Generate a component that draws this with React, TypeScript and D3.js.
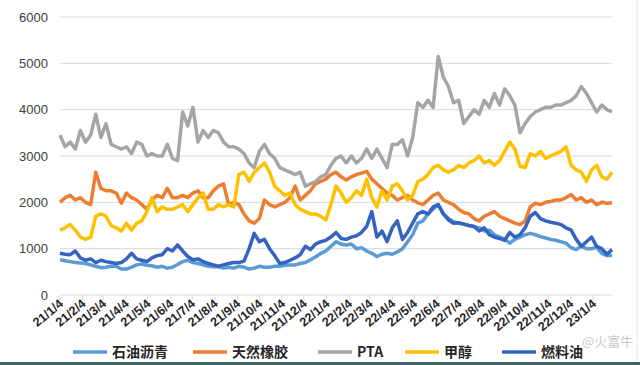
import React from "react";
import * as d3 from "d3";

// weekly readings, first point 2021-01-04
const ASPHALT = [
  760, 740, 720, 700, 690, 680, 650, 620, 590, 600, 620, 620, 560, 560, 600, 650, 670, 640, 630, 600,
  620, 580, 600, 660, 720, 750, 700, 680, 650, 620, 610, 610, 580, 600, 580, 620, 600, 560, 580, 620,
  600, 600, 620, 620, 640, 650, 650, 680, 700, 760, 820, 900, 950, 1050, 1150,
  1100, 1080, 1100, 1000, 1020, 950, 900, 830, 880, 900, 880, 930, 1000, 1150, 1300, 1550, 1600, 1750,
  1850, 1950, 1750, 1650, 1580, 1550, 1530, 1500, 1480, 1450, 1380, 1400, 1300, 1250, 1200, 1120, 1200,
  1250, 1300, 1330, 1300, 1260, 1230, 1200, 1180, 1150, 1120, 1020, 980, 1050, 1000, 1000, 1030, 900,
  850, 850,
];
const RUBBER = [
  2000, 2100, 2150, 2050, 2100, 2000, 1950, 2650, 2300, 2250, 2250, 2200, 1980, 2200, 2100, 2050, 1950,
  1850, 2050, 2150, 2100, 2300, 2100, 2100, 2150, 2100, 2200, 2250, 2100, 2100, 2250, 2350, 2400, 1950,
  2000, 1950, 1750, 1600, 1550, 1650, 2050, 1950, 1900, 1950, 2000, 2100, 2350, 2050, 2150, 2250, 2400,
  2450, 2500, 2600, 2650,
  2550, 2480, 2550, 2600, 2630, 2670, 2500, 2400, 2300, 2200, 2150, 2050, 2100, 2150, 2050, 1990, 1950,
  2050, 2150, 2200, 2050, 2000, 1950, 1850, 1780, 1750, 1650, 1600, 1700, 1750, 1800, 1700, 1650, 1600,
  1550, 1520, 1600, 1900, 1980, 1950, 2000, 2020, 2050, 2050, 2100, 2170, 2050, 2100, 2000, 2050, 1950,
  2000, 1980, 1990,
];
const PTA = [
  3450, 3200, 3300, 3150, 3550, 3300, 3450, 3900, 3400, 3700, 3250, 3200, 3150, 3200, 3050, 3300, 3250,
  3000, 3050, 3000, 3000, 3250, 2950, 2900, 3950, 3650, 4050, 3300, 3550, 3400, 3550, 3500, 3300, 3200,
  3200, 3150, 3050, 2850, 2750, 3100, 3250, 3050, 2950, 2750, 2700, 2650, 2600, 2650, 2350, 2400, 2450,
  2550, 2600, 2800, 2950,
  3000, 2850, 3000, 2850, 2950, 3150, 2950, 3150, 2950, 2750, 3250, 3250, 3350, 3000, 3400, 4150, 4050,
  4200, 4050, 5150, 4700, 4500, 4150, 4200, 3700, 3850, 4000, 3900, 4200, 4050, 4350, 4100, 4450, 4300,
  4100, 3500, 3700, 3850, 3950, 4000, 4050, 4050, 4100, 4100, 4150, 4200, 4300, 4500, 4350, 4150, 3950,
  4100, 4000, 3950,
];
const METHANOL = [
  1400, 1450, 1520, 1400, 1250, 1200, 1250, 1700, 1750, 1700, 1500, 1450, 1380, 1550, 1400, 1550, 1600,
  1800, 2100, 1800, 1900, 1850, 1850, 1900, 1950, 1800, 1950, 2100, 2200, 1850, 1850, 1950, 1900, 1950,
  1900, 2600, 2650, 2450, 2650, 2750, 2850, 2650, 2350, 2250, 2150, 2200, 1950, 1850, 1800, 1750, 1750,
  1700, 1620, 1950, 2350,
  2200, 2000, 2100, 2250, 2150, 2500, 2100, 1900, 2250, 2050, 2350, 2400, 2250, 2050, 2150, 2450, 2500,
  2600, 2750, 2800, 2700, 2650, 2700, 2800, 2750, 2850, 2900, 3000, 2850, 2900, 2800, 2900, 3100, 3300,
  3150, 2780, 2750, 3050, 3000, 3100, 2950, 3000, 3050, 3100, 3200, 2800, 2700, 2650, 2450, 2700, 2800,
  2550, 2500, 2650,
];
const FUEL_OIL = [
  900, 880, 870, 950, 800, 750, 780, 700, 750, 720, 700, 680, 700, 780, 900, 780, 750, 720, 800, 850,
  870, 1000, 950, 1080, 950, 830, 760, 780, 720, 680, 650, 620, 650, 680, 700, 700, 730, 1000, 1330, 1150,
  1200, 1000, 850, 680, 700, 750, 800, 870, 1050, 980, 1100, 1150, 1180, 1250, 1350,
  1220, 1200, 1250, 1280, 1350, 1480, 1800, 1250, 1380, 1150, 1450, 1600, 1200, 1350, 1550, 1750, 1800,
  1750, 1900, 1950, 1750, 1620, 1550, 1560, 1530, 1500, 1480, 1380, 1450, 1300, 1250, 1220, 1180, 1350,
  1250, 1300, 1450, 1700, 1780, 1650, 1600, 1570, 1550, 1520, 1450, 1400, 1200, 1050, 1150, 1250, 1050,
  1000, 880, 980,
];

const TICK_LABELS = [
  "21/1/4", "21/2/4", "21/3/4", "21/4/4", "21/5/4", "21/6/4", "21/7/4", "21/8/4", "21/9/4",
  "21/10/4", "21/11/4", "21/12/4", "22/1/4", "22/2/4", "22/3/4", "22/4/4", "22/5/4", "22/6/4",
  "22/7/4", "22/8/4", "22/9/4", "22/10/4", "22/11/4", "22/12/4", "23/1/4",
];
const Y_TICKS = [0, 1000, 2000, 3000, 4000, 5000, 6000];

const SERIES = [
  { name: "石油沥青", values: ASPHALT, color: "#5b9bd5" },
  { name: "天然橡胶", values: RUBBER, color: "#ed7d31" },
  { name: "PTA", values: PTA, color: "#a5a5a5" },
  { name: "甲醇", values: METHANOL, color: "#ffc000" },
  { name: "燃料油", values: FUEL_OIL, color: "#3464bf" },
];
const LEGEND_X = [73, 193, 318, 405, 502];

const START = new Date(2021, 0, 4);
const dates = ASPHALT.map((_, i) => d3.timeDay.offset(START, 7 * i));
const tickDates = TICK_LABELS.map((s) => {
  const [yy, mm, dd] = s.split("/").map(Number);
  return new Date(2000 + yy, mm - 1, dd);
});

const W = 640;
const H = 365;
const left = 60;
const right = 612;
const top = 17;
const bottom = 295;

export default function App() {
  const x = d3.scaleTime().domain([START, dates[dates.length - 1]]).range([left, right]);
  const y = d3.scaleLinear().domain([0, 6000]).range([bottom, top]);
  const line = d3
    .line<number>()
    .x((_, i) => x(dates[i]))
    .y((d) => y(d));

  const font = '"Liberation Sans", Arial, sans-serif';

  return (
    <svg
      width={W}
      height={H}
      style={{ position: "absolute", left: 0, top: 0, background: "#fff" }}
    >
      <rect width={W} height={H} fill="#fff" />
      {/* gridlines + y labels */}
      {Y_TICKS.map((t) => (
        <g key={t}>
          {t > 0 && (
            <line x1={left} x2={right} y1={y(t)} y2={y(t)} stroke="#d9d9d9" strokeWidth={1} />
          )}
          <text
            x={48}
            y={y(t)}
            dy="0.35em"
            textAnchor="end"
            fontFamily={font}
            fontSize={13}
            fill="#404040"
          >
            {t}
          </text>
        </g>
      ))}
      {/* x axis */}
      <line x1={left} x2={right} y1={bottom} y2={bottom} stroke="#d9d9d9" strokeWidth={1} />
      {tickDates.map((d, i) => (
        <g key={TICK_LABELS[i]}>
          <line x1={x(d)} x2={x(d)} y1={bottom} y2={bottom + 5} stroke="#d9d9d9" />
          <text
            transform={`translate(${x(d) + 4},${bottom + 10}) rotate(-40)`}
            textAnchor="end"
            fontFamily={font}
            fontWeight="bold"
            fontSize={12.5}
            fill="#262626"
          >
            {TICK_LABELS[i]}
          </text>
        </g>
      ))}
      {/* series */}
      {SERIES.map((s) => (
        <path
          key={s.name}
          d={line(s.values) ?? ""}
          fill="none"
          stroke={s.color}
          strokeWidth={3.5}
          strokeLinejoin="round"
        />
      ))}
      {/* legend */}
      {SERIES.map((s, i) => (
        <g key={s.name} transform={`translate(${LEGEND_X[i]},352)`}>
          <line x1={0} x2={34} y1={0} y2={0} stroke={s.color} strokeWidth={3.5} />
          <text
            x={39}
            dy="0.35em"
            fontFamily={'"Noto Sans CJK SC", "Liberation Sans", sans-serif'}
            fontSize={14}
            fontWeight="bold"
            fill="#262626"
          >
            {s.name}
          </text>
        </g>
      ))}
      {/* watermark */}
      <text
        x={582}
        y={346}
        fontFamily={'"Noto Sans CJK SC", sans-serif'}
        fontSize={13}
        fill="#c4c4c4"
        opacity={0.9}
      >
        @火富牛
      </text>
      <line x1={637} x2={637} y1={0} y2={H} stroke="#e6e6e6" />
      <rect x={0} y={362} width={W} height={3} fill="#3f6262" />
    </svg>
  );
}
